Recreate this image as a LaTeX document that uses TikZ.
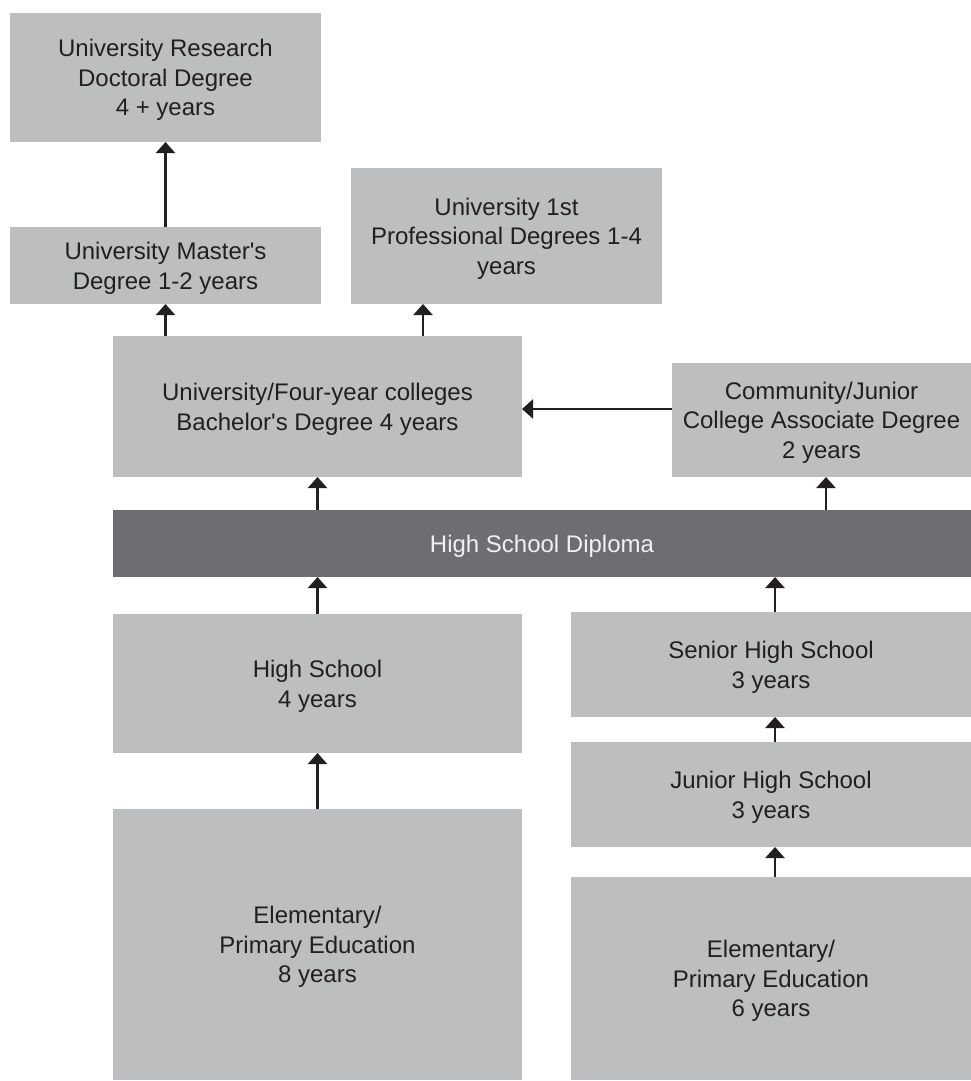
\documentclass[tikz,border=0pt]{standalone}
\usepackage{fontspec}
\setmainfont{Liberation Sans}
\usetikzlibrary{arrows.meta}
\definecolor{boxgray}{HTML}{BCBEC0}
\definecolor{darkbar}{HTML}{6D6E71}
\definecolor{inkc}{HTML}{231F20}
\definecolor{lighttext}{HTML}{F1F1F2}
\newcommand\tstrut{\rule{0pt}{22.5pt}}
\tikzset{
  box/.style={fill=boxgray, draw=none, inner sep=0pt, outer sep=0pt, align=center,
    text=inkc, font=\fontsize{24}{29.5}\selectfont},
  bar/.style={box, fill=darkbar, text=lighttext},
  arr/.style={draw=inkc, line width=2.4pt, -{Triangle[length=11pt,width=19pt]}}
}
\begin{document}
\begin{tikzpicture}[x=1pt,y=-1pt]
\useasboundingbox (0,0) rectangle (971,1081);
\node[box, minimum width=311pt, minimum height=129pt] (doc) at (165.5,77.5)
  {\tstrut University Research\\Doctoral Degree\\4 + years};
\node[box, minimum width=311pt, minimum height=77pt] (mas) at (165.5,265.5)
  {\tstrut University Master\textquotesingle s\\Degree 1-2 years};
\node[box, minimum width=311pt, minimum height=136pt] (prof) at (506.5,236)
  {\tstrut University 1st\\Professional Degrees 1-4\\years};
\node[box, minimum width=409pt, minimum height=141pt] (bach) at (317.5,406.5)
  {\tstrut University/Four-year colleges\\Bachelor\textquotesingle s Degree 4 years};
\node[box, minimum width=299pt, minimum height=114pt] (comm) at (821.5,420)
  {\tstrut Community/Junior\\College Associate Degree\\2 years};
\node[bar, minimum width=858pt, minimum height=67pt] (dip) at (542,543.5)
  {\tstrut High School Diploma};
\node[box, minimum width=409pt, minimum height=139pt] (hs) at (317.5,683.5)
  {\tstrut High School\\4 years};
\node[box, minimum width=409pt, minimum height=271pt] (el8) at (317.5,944.5)
  {\tstrut Elementary/\\Primary Education\\8 years};
\node[box, minimum width=400pt, minimum height=105pt] (sen) at (771,664.5)
  {\tstrut Senior High School\\3 years};
\node[box, minimum width=400pt, minimum height=105pt] (jun) at (771,794.5)
  {\tstrut Junior High School\\3 years};
\node[box, minimum width=400pt, minimum height=203pt] (el6) at (771,978.5)
  {\tstrut Elementary/\\Primary Education\\6 years};
\coordinate (xp) at (423,0);
\coordinate (xc) at (826,0);
\coordinate (xs) at (775,0);
\coordinate (ya) at (0,409);
\draw[arr] (mas.north) -- (doc.south);
\draw[arr] (bach.north -| mas.south) -- (mas.south);
\draw[arr] (bach.north -| xp) -- (prof.south -| xp);
\draw[arr] (comm.west |- ya) -- (bach.east |- ya);
\draw[arr] (dip.north -| bach.south) -- (bach.south);
\draw[arr] (dip.north -| xc) -- (comm.south -| xc);
\draw[arr] (hs.north) -- (dip.south -| hs.north);
\draw[arr] (el8.north) -- (hs.south);
\draw[arr] (sen.north -| xs) -- (dip.south -| xs);
\draw[arr] (jun.north -| xs) -- (sen.south -| xs);
\draw[arr] (el6.north -| xs) -- (jun.south -| xs);
\end{tikzpicture}
\end{document}
